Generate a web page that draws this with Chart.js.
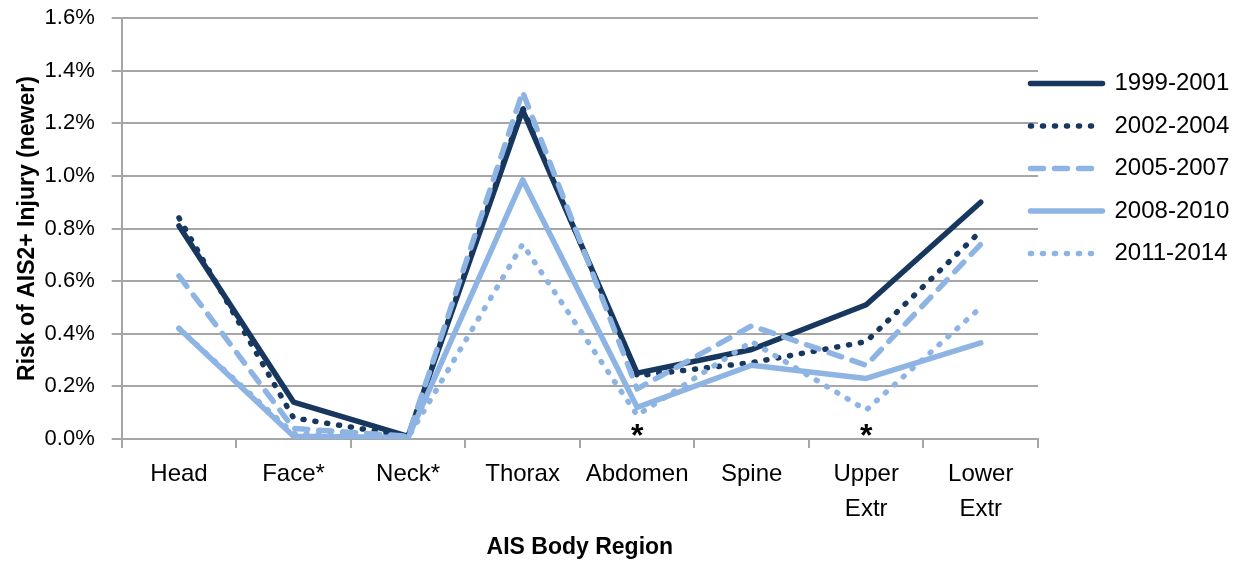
<!DOCTYPE html>
<html>
<head>
<meta charset="utf-8">
<script src="https://cdn.jsdelivr.net/npm/chart.js@4"></script>
<style>
  html, body { margin: 0; padding: 0; background: #fff; }
  #wrap { width: 1237px; height: 563px; }
</style>
</head>
<body>
<div id="wrap"><canvas id="riskChart"></canvas></div>
<script>
// categories and values (risk in %)
const regions = ['Head', 'Face*', 'Neck*', 'Thorax', 'Abdomen', 'Spine', ['Upper', 'Extr'], ['Lower', 'Extr']];
const seriesNames = ['1999-2001', '2002-2004', '2005-2007', '2008-2010', '2011-2014'];
const risk9901 = [0.81, 0.14, 0.01, 1.25, 0.25, 0.34, 0.51, 0.90];
const risk0204 = [0.84, 0.08, 0.01, 1.26, 0.24, 0.29, 0.37, 0.79];
const risk0507 = [0.62, 0.04, 0.01, 1.32, 0.19, 0.43, 0.28, 0.74];
const risk0810 = [0.42, 0.01, 0.005, 0.985, 0.12, 0.28, 0.23, 0.365];
const risk1114 = [0.42, 0.02, 0.005, 0.74, 0.09, 0.37, 0.11, 0.50];
const yTicks = [0, 0.2, 0.4, 0.6, 0.8, 1.0, 1.2, 1.4, 1.6];
const starredRegions = [4, 6]; // Abdomen, Upper Extr

const DARK = '#17375E';
const LIGHT = '#8EB4E3';
const GRID = '#A6A6A6';

Chart.defaults.font.family = "'Liberation Sans', Arial, sans-serif";
Chart.defaults.color = '#000';

function line(label, data, color, width, dash, order) {
    return {
        label: label,
        data: data,
        borderColor: color,
        backgroundColor: color,
        borderWidth: width,
        borderDash: dash,
        borderCapStyle: 'round',
        borderJoinStyle: 'round',
        pointRadius: 0,
        pointHoverRadius: 0,
        tension: 0,
        fill: false,
        order: order
    };
}

// asterisks under the starred regions
const starPlugin = {
    id: 'stars',
    afterDatasetsDraw(chart) {
        const ctx = chart.ctx;
        const xs = chart.scales.x, ys = chart.scales.y;
        ctx.save();
        ctx.font = "bold 32px 'Liberation Sans', Arial, sans-serif";
        ctx.fillStyle = '#000';
        ctx.textAlign = 'center';
        ctx.textBaseline = 'alphabetic';
        starredRegions.forEach(i => {
            ctx.fillText('*', xs.getPixelForValue(i), ys.getPixelForValue(0) + 7);
        });
        ctx.restore();
    }
};

// legend sits a bit into the plot like the original
const legendShift = {
    id: 'legendShift',
    afterLayout(chart) {
        chart.legend.left -= 26;
    }
};

const ctx = document.getElementById('riskChart').getContext('2d');
new Chart(ctx, {
    type: 'line',
    data: {
        labels: regions,
        datasets: [
            line(seriesNames[0], risk9901, DARK, 5.5, [], 5),
            line(seriesNames[1], risk0204, DARK, 5.5, [1, 11], 4),
            line(seriesNames[2], risk0507, LIGHT, 5.5, [13, 11], 3),
            line(seriesNames[3], risk0810, LIGHT, 5.5, [], 2),
            line(seriesNames[4], risk1114, LIGHT, 5.5, [1, 11], 1)
        ]
    },
    options: {
        responsive: true,
        maintainAspectRatio: false,
        animation: false,
        layout: { padding: { top: 0, left: 10, bottom: 2, right: 0 } },
        plugins: {
            tooltip: { enabled: false },
            legend: {
                position: 'right',
                align: 'start',
                maxWidth: 199,
                title: { display: true, text: '', font: { size: 10 }, padding: { top: 0, bottom: 41 } },
                labels: {
                    usePointStyle: true,
                    pointStyle: 'line',
                    pointStyleWidth: 72,
                    boxWidth: 72,
                    padding: 18.5,
                    color: '#000',
                    font: { size: 24 },
                    generateLabels: chart => chart.data.datasets.map((ds, i) => ({
                        text: ds.label,
                        datasetIndex: i,
                        strokeStyle: ds.borderColor,
                        fillStyle: ds.borderColor,
                        lineWidth: ds.borderWidth,
                        lineDash: ds.borderDash,
                        lineCap: ds.borderCapStyle,
                        pointStyle: 'line',
                        fontColor: '#000',
                        hidden: false
                    }))
                }
            }
        },
        scales: {
            x: {
                offset: true,
                grid: { display: true, drawOnChartArea: false, offset: true, tickLength: 9, color: GRID, lineWidth: 2 },
                border: { color: GRID, width: 2 },
                ticks: { padding: 9, font: { size: 24, lineHeight: 1.46 }, color: '#000', maxRotation: 0, autoSkip: false },
                title: { display: true, text: 'AIS Body Region', font: { size: 23, weight: 'bold' }, color: '#000', padding: { top: -2.6, bottom: 0 } }
            },
            y: {
                min: 0,
                max: 1.6,
                afterBuildTicks: axis => { axis.ticks = yTicks.map(v => ({ value: v })); },
                grid: { color: GRID, lineWidth: 2, tickLength: 10 },
                border: { color: GRID, width: 2 },
                ticks: { padding: 17, font: { size: 22, lineHeight: 0.1 }, color: '#000', callback: v => v.toFixed(1) + '%' },
                title: { display: true, text: 'Risk of AIS2+ Injury (newer)', font: { size: 23, weight: 'bold' }, color: '#000', padding: { top: 4, bottom: -14 } }
            }
        }
    },
    plugins: [starPlugin, legendShift]
});
</script>
</body>
</html>
